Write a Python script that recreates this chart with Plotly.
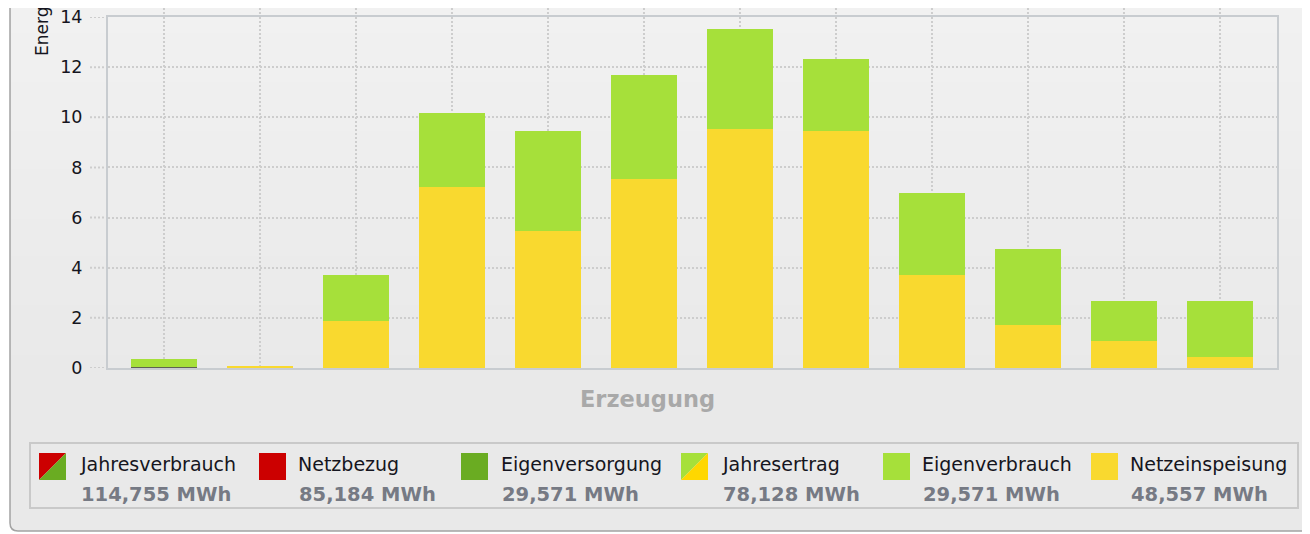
import plotly.graph_objects as go

# ---------------- data ----------------
months = ["Jan", "Feb", "Mär", "Apr", "Mai", "Jun", "Jul", "Aug", "Sep", "Okt", "Nov", "Dez"]
eigenversorgung_bar = [0.06, 0, 0, 0, 0, 0, 0, 0, 0, 0, 0, 0]
netzeinspeisung = [0.0, 0.06, 1.87, 7.22, 5.46, 7.54, 9.53, 9.45, 3.71, 1.72, 1.08, 0.44]
eigenverbrauch = [0.30, 0.0, 1.84, 2.95, 3.99, 4.15, 3.99, 2.88, 3.27, 3.03, 1.59, 2.23]

y_ticks = [0, 2, 4, 6, 8, 10, 12, 14]

legend_labels = ["Jahresverbrauch", "Netzbezug", "Eigenversorgung", "Jahresertrag", "Eigenverbrauch", "Netzeinspeisung"]
legend_values = ["114,755 MWh", "85,184 MWh", "29,571 MWh", "78,128 MWh", "29,571 MWh", "48,557 MWh"]

x_title = "Erzeugung"
y_title = "Energie [MWh]"

# ---------------- style ----------------
W, H = 1310, 534
OFF = 8  # page body margin: screen = figure + 8
SPL, SPR, SPT, SPB = 108, 1277, 17, 368  # plot area in screen pixels
PL, PR, PT, PB = SPL - OFF, SPR - OFF, SPT - OFF, SPB - OFF

RED = "#cc0000"
DKGREEN = "#6aac22"
GREEN = "#a6e03a"
YELLOW = "#f9d92f"
YELLOW2 = "#ffd700"
GRID = "#cdcdcd"
FONT = "DejaVu Sans"


def X(sx):
    return (sx - OFF - PL) / (PR - PL)


def Y(sy):
    return (PB - (sy - OFF)) / (PB - PT)


fig = go.Figure()
fig.add_trace(go.Bar(x=months, y=eigenversorgung_bar, marker_color="#5e6352",
                     marker_line_width=0, width=0.69, name="Eigenversorgung", hoverinfo="skip"))
fig.add_trace(go.Bar(x=months, y=netzeinspeisung, marker_color=YELLOW,
                     marker_line_width=0, width=0.69, name="Netzeinspeisung"))
fig.add_trace(go.Bar(x=months, y=eigenverbrauch, marker_color=GREEN,
                     marker_line_width=0, width=0.69, name="Eigenverbrauch"))

shapes = []
# panel fill
shapes.append(dict(type="path", xref="paper", yref="paper", layer="below",
                   path=f"M {X(10)},{Y(0)} L {X(10)},{Y(523)} Q {X(10)},{Y(531)} {X(18)},{Y(531)} "
                        f"L {X(1330)},{Y(531)} L {X(1330)},{Y(0)} Z",
                   fillcolor="#e9e9e9", line=dict(width=0)))
# gradient bands (top lighter)
n = 30
top, bot = 8, 380
c0, c1 = 0xf1, 0xe9
for i in range(n):
    y0 = top + (bot - top) * i / n
    y1 = top + (bot - top) * (i + 1) / n + 0.5
    v = round(c0 + (c1 - c0) * i / (n - 1))
    col = f"#{v:02x}{v:02x}{v:02x}"
    shapes.append(dict(type="rect", xref="paper", yref="paper", layer="below",
                       x0=X(11), x1=X(1330), y0=Y(y0 - 0.5), y1=Y(y1),
                       fillcolor=col, line=dict(width=0)))
# panel border (left + bottom, rounded corner)
shapes.append(dict(type="path", xref="paper", yref="paper", layer="below",
                   path=f"M {X(10)},{Y(0)} L {X(10)},{Y(523)} Q {X(10)},{Y(531)} {X(18)},{Y(531)} "
                        f"L {X(1330)},{Y(531)}",
                   line=dict(color="#a3a3a3", width=1.5)))
# dotted tick extensions left of the frame
for t in y_ticks:
    shapes.append(dict(type="line", xref="paper", yref="y", layer="below",
                       x0=X(90), x1=X(107), y0=t, y1=t,
                       line=dict(color=GRID, width=2, dash="2px,2px")))
# dotted grid extensions above the frame
for m in months:
    shapes.append(dict(type="line", xref="x", yref="paper", layer="below",
                       x0=m, x1=m, y0=Y(8), y1=Y(17),
                       line=dict(color=GRID, width=2, dash="2px,2px")))

# legend box
LX0, LX1, LY0, LY1 = 30, 1298, 443, 508
shapes.append(dict(type="rect", xref="paper", yref="paper", layer="below",
                   x0=X(LX0), x1=X(LX1), y0=Y(LY0), y1=Y(LY1),
                   line=dict(color="#c9c9c9", width=2), fillcolor="rgba(0,0,0,0)"))

sq_x = [39, 259, 461, 681, 883, 1091]
txt_x = [79, 297, 500, 721, 921, 1129]
sq_styles = [(RED, DKGREEN), (RED, RED), (DKGREEN, DKGREEN), (GREEN, YELLOW2), (GREEN, GREEN), (YELLOW, YELLOW)]
SY0, SY1 = 453, 480
annotations = []
for i, (lab, val) in enumerate(zip(legend_labels, legend_values)):
    x0 = sq_x[i]
    x1 = x0 + 27
    ca, cb = sq_styles[i]
    if ca == cb:
        shapes.append(dict(type="rect", xref="paper", yref="paper",
                           x0=X(x0), x1=X(x1), y0=Y(SY0), y1=Y(SY1),
                           fillcolor=ca, line=dict(width=0)))
    else:
        shapes.append(dict(type="path", xref="paper", yref="paper",
                           path=f"M {X(x0)},{Y(SY0)} L {X(x1)},{Y(SY0)} L {X(x0)},{Y(SY1)} Z",
                           fillcolor=ca, line=dict(width=0)))
        shapes.append(dict(type="path", xref="paper", yref="paper",
                           path=f"M {X(x1)},{Y(SY0)} L {X(x1)},{Y(SY1)} L {X(x0)},{Y(SY1)} Z",
                           fillcolor=cb, line=dict(width=0)))
    annotations.append(dict(text=lab, xref="paper", yref="paper", x=X(txt_x[i] - 1), y=Y(464),
                            xanchor="left", yanchor="middle", showarrow=False,
                            font=dict(family=FONT, size=19, color="#151520")))
    annotations.append(dict(text=f"<b>{val}</b>", xref="paper", yref="paper", x=X(txt_x[i]), y=Y(495),
                            xanchor="left", yanchor="middle", showarrow=False,
                            font=dict(family=FONT, size=19.5, color="#767a84")))

annotations.append(dict(text=f"<b>{x_title}</b>", xref="paper", yref="paper", x=X(647), y=Y(399),
                        xanchor="center", yanchor="middle", showarrow=False,
                        font=dict(family=FONT, size=22.5, color="#a9a9a9")))
annotations.append(dict(text=y_title, xref="paper", yref="paper", x=X(42), y=Y(58),
                        xanchor="center", yanchor="bottom", textangle=-90, showarrow=False,
                        font=dict(family=FONT, size=17, color="#151520")))

fig.update_layout(
    width=W, height=H,
    margin=dict(l=PL, r=W - PR, t=PT, b=H - PB, pad=0, autoexpand=False),
    paper_bgcolor="white",
    plot_bgcolor="rgba(0,0,0,0)",
    barmode="stack",
    showlegend=False,
    shapes=shapes,
    annotations=annotations,
    xaxis=dict(type="category", categoryarray=months, range=[-0.583, 11.594],
               showticklabels=False, ticks="", automargin=False,
               showgrid=True, gridcolor=GRID, gridwidth=2, griddash="2px,2px",
               showline=True, mirror=True, linecolor="#c8ccd0", linewidth=2, zeroline=False),
    yaxis=dict(range=[0, 14], tickvals=y_ticks, ticktext=[str(t) for t in y_ticks],
               ticks="outside", ticklen=20, tickcolor="rgba(0,0,0,0)", automargin=False,
               ticklabeloverflow="allow",
               tickfont=dict(family=FONT, size=17.5, color="#151520"),
               showgrid=True, gridcolor=GRID, gridwidth=2, griddash="2px,2px",
               showline=True, mirror=True, linecolor="#c8ccd0", linewidth=2, zeroline=False),
)

fig.write_html("out.html")
